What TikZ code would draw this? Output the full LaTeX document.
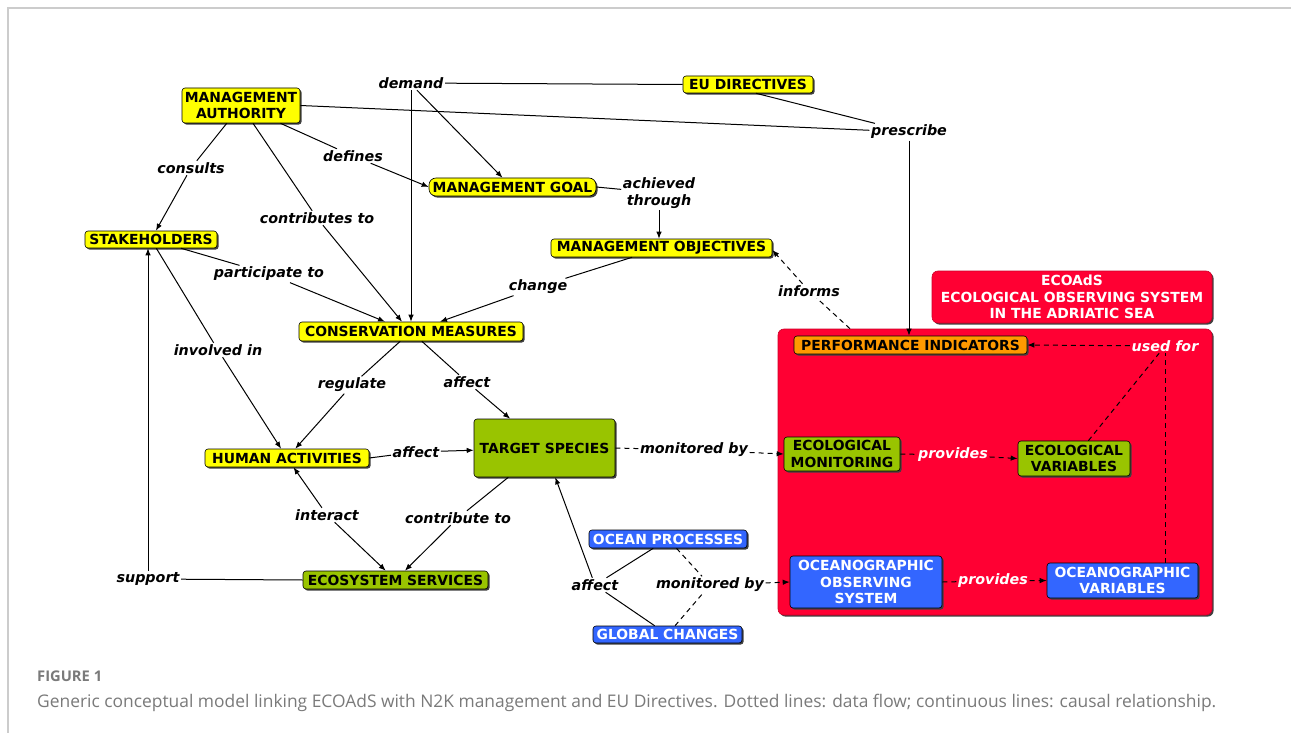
\documentclass[tikz,border=0pt]{standalone}
\usepackage{fontspec}
\usepackage{graphicx}
\usetikzlibrary{shadows,arrows.meta,calc}
\newfontfamily\djv{DejaVu Sans}
\newfontfamily\capfont{Open Sans}
\definecolor{cmyellow}{HTML}{FFFF00}
\definecolor{cmgreen}{HTML}{99C400}
\definecolor{cmblue}{HTML}{3366FF}
\definecolor{cmred}{HTML}{FF0033}
\definecolor{cmorange}{HTML}{FF9900}
\definecolor{capgray}{HTML}{7A7A7A}
\newcommand\nodefnt{\djv\bfseries\fontsize{13.9}{16.5}\selectfont}
\newcommand\labfnt{\djv\bfseries\itshape\fontsize{14.3}{17}\selectfont}
\tikzset{
  cbox/.style={draw=black, line width=0.6pt, rounded corners=3pt, font=\nodefnt,
    align=center, inner sep=1pt,
    drop shadow={shadow xshift=1.6pt, shadow yshift=-1.6pt, fill=black!75, opacity=1}},
  ybox/.style={cbox, fill=cmyellow},
  gbox/.style={cbox, fill=cmgreen},
  blbox/.style={cbox, fill=cmblue, text=white},
  obox/.style={cbox, fill=cmorange},
  rbox/.style={cbox, fill=cmred, draw=cmred!80!black, rounded corners=6pt, text=white},
  lab/.style={font=\labfnt, inner sep=1.5pt, align=center},
  wlab/.style={lab, text=white},
  conn/.style={line width=1pt, black},
  arr/.style={conn, -{Latex[length=7pt,width=5.5pt]}},
  dconn/.style={conn, dash pattern=on 5pt off 4pt},
  darr/.style={dconn, -{Latex[length=7pt,width=5.5pt]}},
}
\begin{document}
\begin{tikzpicture}[x=1pt,y=-1pt]
\useasboundingbox (0,0) rectangle (1291,733);
\fill[white] (0,0) rectangle (1291,733);
% page frame
\draw[gray!40, line width=1.5pt] (7,8) -- (1291,8);
\draw[gray!40, line width=1.5pt] (8,8) -- (8,733);

% ---------- nodes ----------
\node[ybox, minimum width=118pt, minimum height=35pt] (ma) at (241,105.5) {MANAGEMENT\\AUTHORITY};
\node[ybox, minimum width=132pt, minimum height=17pt] (st) at (151,239.5) {STAKEHOLDERS};
\node[ybox, rounded corners=7pt, minimum width=167pt, minimum height=18pt] (mg) at (512.5,187) {MANAGEMENT GOAL};
\node[ybox, minimum width=130pt, minimum height=17pt] (eu) at (748,84.5) {EU DIRECTIVES};
\node[ybox, minimum width=221pt, minimum height=18pt] (mo) at (661.5,248) {MANAGEMENT OBJECTIVES};
\node[ybox, minimum width=224pt, minimum height=19pt] (cm) at (411,331.5) {CONSERVATION MEASURES};
\node[ybox, minimum width=164pt, minimum height=18pt] (ha) at (287,458) {HUMAN ACTIVITIES};
\node[gbox, minimum width=141pt, minimum height=58pt] (ts) at (544.5,448) {TARGET SPECIES};
\node[gbox, minimum width=185pt, minimum height=18pt] (es) at (395.5,580) {ECOSYSTEM SERVICES};
\node[blbox, minimum width=158pt, minimum height=18pt] (op) at (668,539) {OCEAN PROCESSES};
\node[blbox, minimum width=149pt, minimum height=17pt] (gc) at (667.5,634.5) {GLOBAL CHANGES};
\node[rbox, minimum width=434pt, minimum height=286pt] (eco) at (995,472) {};
\node[rbox, minimum width=280pt, minimum height=52pt] (title) at (1072,297) {ECOAdS\\ECOLOGICAL OBSERVING SYSTEM\\IN THE ADRIATIC SEA};
\node[obox, minimum width=233pt, minimum height=18pt] (pi) at (910.5,345) {PERFORMANCE INDICATORS};
\node[gbox, minimum width=116pt, minimum height=34pt] (em) at (842,454) {ECOLOGICAL\\MONITORING};
\node[gbox, minimum width=112pt, minimum height=35pt] (ev) at (1074,458.5) {ECOLOGICAL\\VARIABLES};
\node[blbox, minimum width=152pt, minimum height=52pt] (oos) at (866,582) {OCEANOGRAPHIC\\OBSERVING\\SYSTEM};
\node[blbox, minimum width=151pt, minimum height=35pt] (ov) at (1122.5,580.5) {OCEANOGRAPHIC\\VARIABLES};

% ---------- labels ----------
\node[lab] (demand) at (411,83) {demand};
\node[lab] (prescribe) at (909,132) {prescribe};
\node[lab] (consults) at (191,168) {consults};
\node[lab] (defines) at (353,156) {defines};
\node[lab] (contrib) at (317,218) {contributes to};
\node[lab] (achieved) at (659,193) {achieved\\through};
\node[lab] (particip) at (269,274) {participate to};
\node[lab] (change) at (538,287) {change};
\node[lab] (informs) at (809,291) {informs};
\node[lab] (involved) at (218,350) {involved in};
\node[lab] (regulate) at (352,385) {regulate};
\node[lab] (affA) at (467,382) {affect};
\node[lab] (affB) at (416,452) {affect};
\node[lab] (monA) at (694,450) {monitored by};
\node[wlab] (provA) at (953,455) {provides};
\node[wlab] (usedfor) at (1165,346) {used for};
\node[lab] (interact) at (327,515) {interact};
\node[lab] (contribB) at (458,518) {contribute to};
\node[lab] (support) at (148,579) {support};
\node[lab] (affC) at (595,585) {affect};
\node[lab] (monB) at (710,585) {monitored by};
\node[wlab] (provB) at (993,581) {provides};

% ---------- connectors ----------
\draw[conn] (ma) -- (consults);
\draw[arr] (consults) -- (st);
\draw[conn] (ma) -- (defines);
\draw[arr] (defines) -- (mg.west);
\draw[conn] (ma) -- (contrib);
\draw[arr] (contrib) -- ([xshift=-9pt]cm.north);
\draw[conn] (ma.east) -- (prescribe);
\draw[conn] ([xshift=8pt]eu.south) -- (prescribe);
\draw[arr] (prescribe.south) -- (prescribe.south |- pi.north);
\draw[conn] (demand) -- (eu.west);
\draw[arr] ([xshift=6pt]demand.south) -- ([xshift=-10pt]mg.north);
\draw[arr] (demand.south) -- (demand.south |- cm.north);
\draw[conn] (mg.east) -- (achieved);
\draw[arr] (achieved.south) -- (achieved.south |- mo.north);
\draw[conn] (mo) -- (change);
\draw[arr] (change) -- ([xshift=29pt]cm.north);
\draw[conn] (st) -- (particip);
\draw[arr] (particip) -- ([xshift=-26pt]cm.north);
\draw[conn] (st) -- (involved);
\draw[arr] (involved) -- (ha);
\draw[conn] (cm) -- (regulate);
\draw[arr] (regulate) -- (ha);
\draw[conn] (cm) -- (affA);
\draw[arr] (affA) -- (ts);
\draw[conn] (ha.east) -- (affB);
\draw[arr] (affB) -- (ts);
\draw[dconn] (ts.east) -- (monA);
\draw[darr] (monA) -- (em.west);
\draw[dconn] (em.east) -- (provA);
\draw[darr] (provA) -- (ev.west);
\draw[dconn] (ev) -- (usedfor);
\draw[dconn] (usedfor.south |- ov.north) -- (usedfor.south);
\draw[darr] (usedfor) -- (pi.east);
\draw[conn] (es.west) -- (support);
\draw[arr] (support.north) -- (support.north |- st.south);
\draw[arr] (interact) -- (ha);
\draw[arr] (interact) -- (es);
\draw[conn] (ts) -- (contribB);
\draw[arr] (contribB) -- (es);
\draw[conn] (op) -- (affC);
\draw[conn] (gc) -- (affC);
\draw[arr] (affC) -- (ts);
\draw[dconn] (op) -- (monB);
\draw[dconn] (gc) -- (monB);
\draw[darr] (monB) -- (oos.west);
\draw[dconn] (oos.east) -- (provB);
\draw[darr] (provB) -- (ov.west);
\draw[dconn] ([xshift=-145pt]eco.north) -- (informs);
\draw[darr] (informs) -- ([yshift=-2pt]mo.east);

% ---------- caption ----------
\node[anchor=west, inner sep=0, text=capgray] (fig) at (37,676)
  {\resizebox{65pt}{!}{\capfont\bfseries FIGURE 1}};
\node[anchor=west, inner sep=0, text=capgray] (cap) at (37,703)
  {\resizebox{1179pt}{!}{\capfont\fontsize{15}{18}\selectfont Generic conceptual model linking ECOAdS with N2K management and EU Directives. Dotted lines: data flow; continuous lines: causal relationship.}};
\end{tikzpicture}
\end{document}
